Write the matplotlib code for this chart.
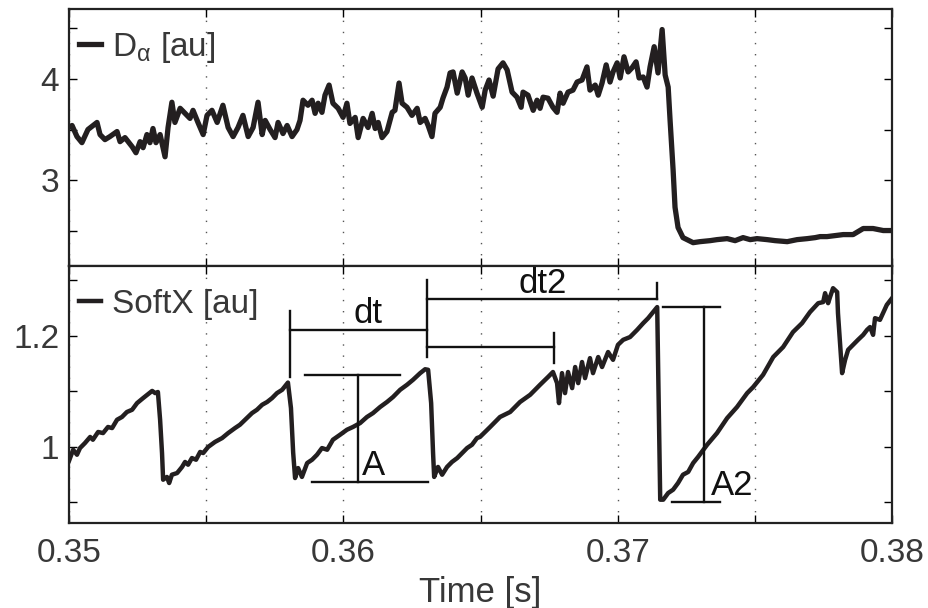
import matplotlib
matplotlib.use('Agg')
import matplotlib.pyplot as plt
import numpy as np

plt.rcParams['font.family'] = ['Liberation Sans', 'DejaVu Sans']
plt.rcParams['mathtext.fontset'] = 'custom'
plt.rcParams['mathtext.rm'] = 'Liberation Sans'
plt.rcParams['mathtext.it'] = 'Liberation Sans'

# D-alpha trace: time [ms], signal [au]
da_time_ms = [
    350.00, 350.11, 350.29, 350.47, 350.69, 351.02, 351.13, 351.31, 351.49, 351.75,
    351.86, 352.04, 352.30, 352.44, 352.59, 352.70, 352.84, 352.95, 353.06, 353.17,
    353.32, 353.50, 353.61, 353.75, 353.86, 354.05, 354.23, 354.41, 354.52, 354.70,
    354.89, 355.03, 355.21, 355.40, 355.61, 355.80, 355.98, 356.16, 356.34, 356.53,
    356.71, 356.89, 357.04, 357.15, 357.33, 357.51, 357.62, 357.80, 357.95, 358.13,
    358.31, 358.42, 358.53, 358.71, 358.86, 358.97, 359.08, 359.22, 359.33, 359.48,
    359.62, 359.81, 359.99, 360.13, 360.24, 360.43, 360.54, 360.72, 360.90, 361.05,
    361.16, 361.27, 361.41, 361.59, 361.78, 361.88, 362.03, 362.14, 362.32, 362.50,
    362.69, 362.80, 362.98, 363.09, 363.23, 363.34, 363.53, 363.63, 363.78, 363.89,
    364.00, 364.15, 364.33, 364.44, 364.55, 364.69, 364.87, 365.06, 365.17, 365.31,
    365.46, 365.64, 365.82, 365.97, 366.15, 366.33, 366.48, 366.55, 366.73, 366.92,
    367.06, 367.17, 367.28, 367.46, 367.64, 367.79, 367.90, 368.01, 368.19, 368.37,
    368.52, 368.70, 368.88, 368.99, 369.18, 369.29, 369.43, 369.58, 369.72, 369.83,
    369.98, 370.09, 370.23, 370.38, 370.52, 370.67, 370.78, 370.93, 371.07, 371.18,
    371.33, 371.47, 371.62, 371.73, 371.84, 371.91, 372.02, 372.09, 372.20, 372.38,
    372.53, 372.75, 373.00, 373.37, 373.62, 373.99, 374.28, 374.57, 374.83, 375.08,
    375.45, 375.74, 376.18, 376.54, 376.91, 377.20, 377.38, 377.63, 377.92, 378.22,
    378.58, 378.95, 379.31, 379.68, 380.00,
]
da_value = [
    3.52, 3.54, 3.43, 3.37, 3.50, 3.57, 3.45, 3.40, 3.43, 3.48,
    3.38, 3.42, 3.33, 3.27, 3.38, 3.32, 3.45, 3.37, 3.51, 3.37,
    3.45, 3.23, 3.52, 3.77, 3.57, 3.71, 3.66, 3.61, 3.69, 3.57,
    3.45, 3.64, 3.69, 3.57, 3.74, 3.52, 3.43, 3.52, 3.64, 3.43,
    3.52, 3.77, 3.45, 3.59, 3.50, 3.42, 3.57, 3.46, 3.54, 3.43,
    3.50, 3.59, 3.79, 3.74, 3.79, 3.66, 3.76, 3.67, 3.84, 3.94,
    3.76, 3.71, 3.62, 3.76, 3.56, 3.62, 3.42, 3.61, 3.52, 3.66,
    3.51, 3.57, 3.42, 3.48, 3.67, 3.69, 3.96, 3.76, 3.72, 3.64,
    3.71, 3.57, 3.61, 3.54, 3.43, 3.66, 3.72, 3.81, 3.92, 4.06,
    4.07, 3.86, 4.07, 4.01, 3.84, 4.01, 3.86, 3.72, 3.89, 3.99,
    3.83, 4.10, 4.16, 4.09, 3.87, 3.82, 3.72, 3.87, 3.84, 3.69,
    3.79, 3.71, 3.82, 3.81, 3.72, 3.67, 3.86, 3.76, 3.87, 3.89,
    3.97, 3.99, 4.12, 3.89, 3.94, 3.84, 3.96, 4.14, 3.97, 4.07,
    4.16, 4.01, 4.22, 4.07, 4.11, 4.17, 4.01, 4.02, 3.92, 4.12,
    4.32, 4.06, 4.49, 4.04, 3.92, 3.59, 3.10, 2.73, 2.53, 2.43,
    2.41, 2.38, 2.39, 2.40, 2.41, 2.42, 2.40, 2.43, 2.41, 2.42,
    2.41, 2.40, 2.39, 2.41, 2.42, 2.43, 2.44, 2.44, 2.45, 2.46,
    2.46, 2.52, 2.52, 2.50, 2.50,
]

# soft X-ray trace: time [ms], signal [au]
sx_time_ms = [
    350.00, 350.15, 350.29, 350.40, 350.58, 350.77, 350.87, 351.06, 351.24, 351.42,
    351.57, 351.75, 351.93, 352.11, 352.30, 352.48, 352.70, 352.88, 353.03, 353.14,
    353.24, 353.32, 353.39, 353.43, 353.57, 353.65, 353.75, 353.94, 354.12, 354.23,
    354.34, 354.48, 354.63, 354.78, 354.89, 355.07, 355.32, 355.58, 355.80, 356.05,
    356.23, 356.42, 356.67, 356.85, 357.04, 357.22, 357.40, 357.58, 357.77, 357.98,
    358.09, 358.17, 358.24, 358.35, 358.49, 358.68, 358.86, 359.04, 359.22, 359.41,
    359.62, 359.88, 360.13, 360.35, 360.61, 360.86, 361.08, 361.34, 361.59, 361.81,
    362.07, 362.32, 362.54, 362.80, 362.98, 363.09, 363.20, 363.27, 363.31, 363.45,
    363.60, 363.78, 363.96, 364.15, 364.33, 364.51, 364.69, 364.87, 364.98, 365.35,
    365.71, 366.08, 366.44, 366.81, 367.17, 367.46, 367.64, 367.79, 367.86, 367.97,
    368.08, 368.19, 368.34, 368.45, 368.56, 368.70, 368.81, 368.99, 369.10, 369.29,
    369.43, 369.65, 369.83, 370.01, 370.20, 370.45, 370.71, 370.93, 371.11, 371.29,
    371.44, 371.55, 371.66, 371.84, 372.02, 372.20, 372.38, 372.57, 372.75, 372.93,
    373.26, 373.62, 373.99, 374.35, 374.72, 374.94, 375.30, 375.67, 376.03, 376.39,
    376.72, 377.01, 377.31, 377.49, 377.56, 377.67, 377.74, 377.85, 378.00, 378.03,
    378.18, 378.29, 378.40, 378.58, 378.76, 378.95, 379.09, 379.20, 379.31, 379.38,
    379.56, 379.67, 379.81, 380.00,
]
sx_value = [
    0.975, 0.995, 0.986, 0.998, 1.007, 1.018, 1.013, 1.027, 1.025, 1.036,
    1.034, 1.049, 1.054, 1.063, 1.067, 1.079, 1.088, 1.095, 1.101, 1.097,
    1.099, 1.049, 0.989, 0.941, 0.946, 0.935, 0.950, 0.953, 0.964, 0.973,
    0.968, 0.980, 0.977, 0.991, 0.989, 1.000, 1.009, 1.016, 1.025, 1.034,
    1.040, 1.049, 1.061, 1.067, 1.076, 1.081, 1.088, 1.097, 1.103, 1.116,
    1.070, 0.990, 0.944, 0.962, 0.946, 0.971, 0.977, 0.986, 0.998, 0.995,
    1.013, 1.022, 1.031, 1.036, 1.043, 1.054, 1.061, 1.072, 1.081, 1.090,
    1.103, 1.112, 1.121, 1.133, 1.140, 1.139, 1.079, 0.989, 0.946, 0.964,
    0.950, 0.964, 0.973, 0.980, 0.989, 0.998, 1.004, 1.016, 1.018, 1.036,
    1.054, 1.063, 1.081, 1.094, 1.112, 1.126, 1.135, 1.115, 1.079, 1.133,
    1.097, 1.135, 1.106, 1.144, 1.115, 1.153, 1.124, 1.160, 1.133, 1.162,
    1.144, 1.171, 1.157, 1.184, 1.193, 1.198, 1.211, 1.223, 1.232, 1.243,
    1.252, 0.905, 0.905, 0.917, 0.923, 0.935, 0.950, 0.955, 0.971, 0.982,
    1.004, 1.025, 1.052, 1.072, 1.097, 1.108, 1.130, 1.162, 1.180, 1.207,
    1.223, 1.243, 1.259, 1.261, 1.277, 1.259, 1.270, 1.286, 1.279, 1.241,
    1.133, 1.157, 1.175, 1.184, 1.193, 1.202, 1.211, 1.216, 1.202, 1.232,
    1.229, 1.241, 1.256, 1.268,
]

time_ticks = [0.35, 0.355, 0.36, 0.365, 0.37, 0.375, 0.38]
time_labels = ['0.35', '', '0.36', '', '0.37', '', '0.38']
da_ticks = [2.5, 3, 3.5, 4, 4.5]
da_labels = ['', '3', '', '4', '']
sx_ticks = [0.9, 1.0, 1.1, 1.2, 1.3]
sx_labels = ['', '1', '', '1.2', '']

# crash period markers (ms) and sawtooth amplitudes
dt_start, dt_end = 358.06, 363.05
dt2_end, dt2_mid = 371.44, 367.68
amp_low, amp_high = 0.937, 1.130
amp2_low, amp2_high = 0.901, 1.252

line_color = '#231f20'
text_color = '#383838'
fs = 24

fig = plt.figure(figsize=(9.29, 6.08), dpi=100)
ax1 = fig.add_axes([0.0743, 0.5625, 0.8859, 0.4227])
ax2 = fig.add_axes([0.0743, 0.1398, 0.8859, 0.4227], sharex=ax1)

ax1.plot(np.array(da_time_ms) / 1000, da_value, color=line_color, lw=3.8,
         solid_joinstyle='round', label=r'D$_{\alpha}$ [au]')
ax2.plot(np.array(sx_time_ms) / 1000, sx_value, color=line_color, lw=3.2,
         solid_joinstyle='round', label='SoftX [au]')

for ax in (ax1, ax2):
    ax.set_xlim(0.35, 0.38)
    ax.set_xticks(time_ticks)
    ax.grid(axis='x', color='#555555', linestyle=(0, (1, 7)), linewidth=1.0)
    ax.tick_params(direction='in', length=6, width=1.0, top=True, right=True,
                   labelsize=fs, labelcolor=text_color, pad=7)
    ax.tick_params(axis='x', pad=11)
    for sp in ax.spines.values():
        sp.set_linewidth(1.6)
        sp.set_color('#222222')
    leg = ax.legend(loc='center left', frameon=False, handlelength=0.65,
                    handletextpad=0.35, borderpad=0, borderaxespad=0,
                    fontsize=fs, labelcolor=text_color,
                    bbox_to_anchor=(0.012, 0.852))

ax1.set_ylim(2.149, 4.693)
ax1.set_yticks(da_ticks, da_labels)
ax1.tick_params(labelbottom=False)

ax2.set_ylim(0.863, 1.326)
ax2.set_yticks(sx_ticks, sx_labels)
ax2.set_xticks(time_ticks, time_labels)
ax2.set_xlabel('Time [s]', fontsize=fs + 1, color=text_color, labelpad=5)

# dt / dt2 / A / A2 markers on the soft X-ray panel
ann = dict(color='#111111', lw=1.7)
ms = 1 / 1000
ax2.plot([dt_start * ms, dt_start * ms], [1.126, 1.245], **ann)
ax2.plot([dt_start * ms, dt_end * ms], [1.211, 1.211], **ann)
ax2.plot([dt_end * ms, dt_end * ms], [1.162, 1.301], **ann)
ax2.plot([dt_end * ms, dt2_end * ms], [1.267, 1.267], **ann)
ax2.plot([dt2_end * ms, dt2_end * ms], [1.267, 1.295], **ann)
ax2.plot([dt_end * ms, dt2_mid * ms], [1.180, 1.180], **ann)
ax2.plot([dt2_mid * ms, dt2_mid * ms], [1.151, 1.205], **ann)
ax2.text(360.89 * ms, 1.240, 'dt', fontsize=fs + 1, ha='center', va='center', color='#111111')
ax2.text(367.26 * ms, 1.294, 'dt2', fontsize=fs + 1, ha='center', va='center', color='#111111')

ax2.plot([358.60 * ms, 362.07 * ms], [amp_high, amp_high], **ann)
ax2.plot([360.54 * ms, 360.54 * ms], [amp_low, amp_high], **ann)
ax2.plot([358.86 * ms, 363.09 * ms], [amp_low, amp_low], **ann)
ax2.text(361.09 * ms, 0.966, 'A', fontsize=fs + 1, ha='center', va='center', color='#111111')

ax2.plot([371.66 * ms, 373.73 * ms], [amp2_high, amp2_high], **ann)
ax2.plot([373.15 * ms, 373.15 * ms], [amp2_low, amp2_high], **ann)
ax2.plot([371.98 * ms, 373.73 * ms], [amp2_low, amp2_low], **ann)
ax2.text(373.40 * ms, 0.931, 'A2', fontsize=fs + 1, ha='left', va='center', color='#111111')

fig.savefig('out.png', dpi=100)
